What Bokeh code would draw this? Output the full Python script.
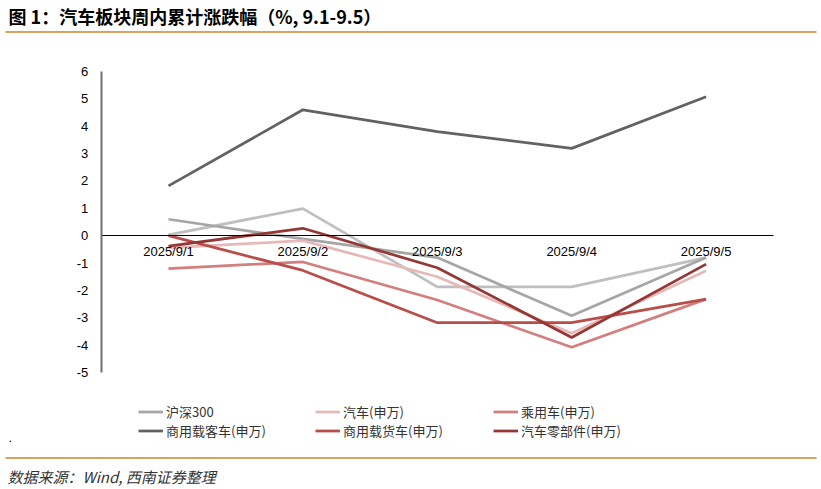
from bokeh.plotting import figure
from bokeh.models import (Legend, LegendItem, Label, BoxAnnotation, FixedTicker,
                          PrintfTickFormatter, Range1d)
from bokeh.embed import file_html
from bokeh.resources import INLINE

# ---- data ----
dates = ["2025/9/1", "2025/9/2", "2025/9/3", "2025/9/4", "2025/9/5"]
hs300 = [0.60, -0.12, -0.80, -2.93, -0.80]
qiche = [-0.45, -0.18, -1.50, -3.57, -1.28]
chengyong = [-1.20, -0.96, -2.35, -4.08, -2.32]
keche = [1.82, 4.60, 3.80, 3.19, 5.08]
huoche = [0.00, -1.27, -3.18, -3.18, -2.32]
lingbujian = [-0.38, 0.27, -1.17, -3.72, -1.04]
extra = [0.03, 0.99, -1.87, -1.87, -0.80]
y_ticks = [-5, -4, -3, -2, -1, 0, 1, 2, 3, 4, 5, 6]

title_text = "图 1：汽车板块周内累计涨跌幅（%, 9.1-9.5）"
source_text = "数据来源：Wind, 西南证券整理"

W, H = 821, 489
# pixel geometry of the plotting area (page px)
X0, DX = 168.0, 134.4          # first category centre, category spacing
Y0, DY = 235.18, 301.0 / 11    # zero line, px per unit

xpos = list(range(len(dates)))

p = figure(width=W, height=H, output_backend="svg", toolbar_location=None,
           x_range=Range1d((0 - X0) / DX, (W - X0) / DX),
           y_range=Range1d((Y0 - H) / DY, Y0 / DY),
           min_border=0, min_border_left=0, min_border_right=0,
           min_border_top=0, min_border_bottom=0)
p.outline_line_color = None
p.grid.visible = False
p.background_fill_color = "white"
p.border_fill_color = "white"

series = [
    ("沪深300", hs300, "#a6a6a6"),
    ("汽车(申万)", qiche, "#e6b9b8"),
    ("乘用车(申万)", chengyong, "#d27f7d"),
    ("商用载客车(申万)", keche, "#626262"),
    ("商用载货车(申万)", huoche, "#b84d4a"),
    ("汽车零部件(申万)", lingbujian, "#953735"),
]

renderers = {}
p.line(xpos, extra, line_color="#bfbfbf", line_width=2.75)
for name, vals, col in series:
    renderers[name] = p.line(xpos, vals, line_color=col, line_width=2.75)

# axes
yax = p.yaxis[0]
yax.fixed_location = -0.5
yax.bounds = (y_ticks[0], y_ticks[-1])
yax.ticker = FixedTicker(ticks=y_ticks)
yax.formatter = PrintfTickFormatter(format="%d")
yax.axis_line_color = "#6f6f6f"
yax.axis_line_width = 2
yax.major_tick_line_color = None
yax.minor_tick_line_color = None
yax.major_tick_out = 0
yax.major_tick_in = 0
yax.major_label_standoff = 13
yax.major_label_text_font = "Liberation Sans"
yax.major_label_text_font_size = "13px"
yax.major_label_text_color = "black"

xax = p.xaxis[0]
xax.fixed_location = 0
xax.bounds = (-0.5, len(dates) - 0.5)
xax.ticker = FixedTicker(ticks=xpos)
xax.major_label_overrides = {i: d for i, d in zip(xpos, dates)}
xax.axis_line_color = "black"
xax.axis_line_width = 1
xax.major_tick_line_color = None
xax.minor_tick_line_color = None
xax.major_tick_out = 0
xax.major_tick_in = 0
xax.major_label_standoff = 8
xax.major_label_text_font = "Liberation Sans"
xax.major_label_text_font_size = "13px"
xax.major_label_text_color = "black"

# legend: one single-item legend per entry, 3 columns x 2 rows
legend_order = ["沪深300", "汽车(申万)", "乘用车(申万)",
                "商用载客车(申万)", "商用载货车(申万)", "汽车零部件(申万)"]
col_x = [138, 315, 493]
row_y = [411, 430]
ITEM_H = 19
for k, name in enumerate(legend_order):
    cx = col_x[k % 3]
    cy = row_y[k // 3]
    lg = Legend(items=[LegendItem(label=name, renderers=[renderers[name]])],
                location=(cx, H - (cy + ITEM_H / 2)), orientation="vertical",
                glyph_width=25, glyph_height=ITEM_H, label_height=ITEM_H,
                label_standoff=3, spacing=0, padding=0, margin=0,
                border_line_color=None, background_fill_alpha=0,
                label_text_font="Noto Sans CJK SC", label_text_font_size="13px",
                label_text_color="#333333")
    p.add_layout(lg)

# title, rules, footer
p.add_layout(Label(x=8, y=H - 15, x_units="screen", y_units="screen",
                   text=title_text, text_font="Noto Sans CJK SC",
                   text_font_size="18px", text_font_style="bold",
                   text_color="black", text_baseline="middle"))
p.add_layout(Label(x=7, y=H - 476, x_units="screen", y_units="screen",
                   text=source_text, text_font="Noto Sans CJK SC",
                   text_font_size="15px", text_font_style="italic",
                   text_color="#333333", text_baseline="middle"))
p.add_layout(Label(x=8, y=H - 441, x_units="screen", y_units="screen",
                   text=".", text_font="Liberation Sans",
                   text_font_size="13px", text_color="black",
                   text_baseline="bottom"))
for yy in (31.5, 457.5):
    p.add_layout(BoxAnnotation(left=5, right=816, top=H - yy + 1,
                               bottom=H - yy - 1, left_units="screen",
                               right_units="screen", top_units="screen",
                               bottom_units="screen", fill_color="#d5a261",
                               fill_alpha=1, line_color=None))

open("out.html", "w").write(file_html(p, INLINE))
